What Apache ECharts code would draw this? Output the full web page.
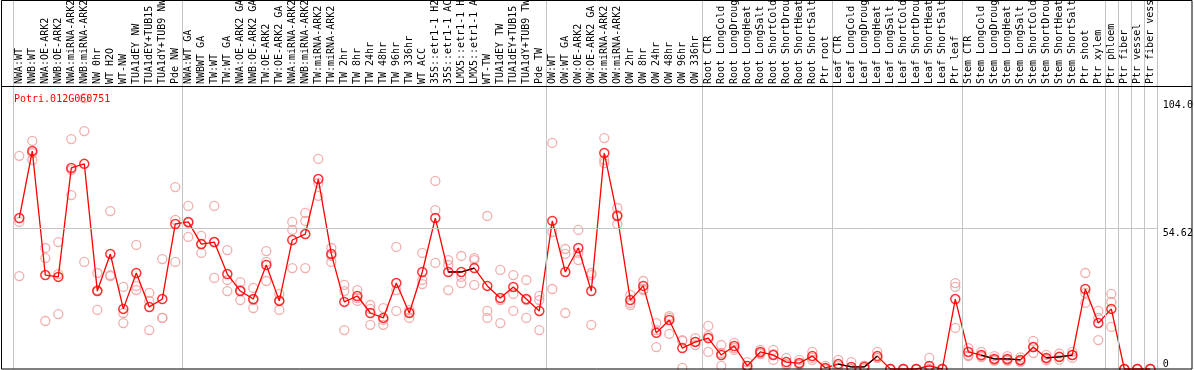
<!DOCTYPE html>
<html>
<head>
<meta charset="utf-8">
<script src="https://cdn.jsdelivr.net/npm/echarts@6/dist/echarts.min.js"></script>
<style>
html,body{margin:0;padding:0;background:#fff;}
#chart{width:1194px;height:370px;}
</style>
</head>
<body>
<div id="chart"></div>
<script>
const chartTitle = "Potri.012G060751";
const categories = ["NWA:WT","NWB:WT","NWA:OE-ARK2","NWB:OE-ARK2","NWA:miRNA-ARK2","NWB:miRNA-ARK2","NW 0hr","WT H2O","WT-NW","TUA1dEY NW","TUA1dEY+TUB15 NW","TUA1dY+TUB9 NW","Pde NW","NWA:WT GA","NWBWT GA","TW:WT","TW:WT GA","NWA:OE-ARK2 GA","NWB:OE-ARK2 GA","TW:OE-ARK2","TW:OE-ARK2 GA","NWA:miRNA-ARK2","NWB:miRNA-ARK2","TW:miRNA-ARK2","TW:miRNA-ARK2","TW 2hr","TW 8hr","TW 24hr","TW 48hr","TW 96hr","TW 336hr","WT ACC","35S::etr1-1 H2O","35S::etr1-1 ACC","LMX5::etr1-1 H2O","LMX5::etr1-1 ACC","WT-TW","TUA1dEY TW","TUA1dEY+TUB15 TW","TUA1dY+TUB9 TW","Pde TW","OW:WT","OW:WT GA","OW:OE-ARK2","OW:OE-ARK2 GA","OW:miRNA-ARK2","OW:miRNA-ARK2","OW 2hr","OW 8hr","OW 24hr","OW 48hr","OW 96hr","OW 336hr","Root CTR","Root LongCold","Root LongDrought","Root LongHeat","Root LongSalt","Root ShortCold","Root ShortDrought","Root ShortHeat","Root ShortSalt","Ptr root","Leaf CTR","Leaf LongCold","Leaf LongDrought","Leaf LongHeat","Leaf LongSalt","Leaf ShortCold","Leaf ShortDrought","Leaf ShortHeat","Leaf ShortSalt","Ptr leaf","Stem CTR","Stem LongCold","Stem LongDrought","Stem LongHeat","Stem LongSalt","Stem ShortCold","Stem ShortDrought","Stem ShortHeat","Stem ShortSalt","Ptr shoot","Ptr xylem","Ptr phloem","Ptr fiber","Ptr vessel","Ptr fiber vessel"];

const meanValues = [58.5,84.5,36.4,35.7,77.9,79.5,30.2,44.6,23.3,37.2,24.0,27.1,56.2,57.0,48.4,49.2,36.8,30.2,27.1,40.3,26.4,50.0,52.3,73.6,44.6,26.0,28.3,21.7,19.8,33.3,21.7,37.6,58.5,37.6,37.6,39.1,32.2,27.5,31.8,27.1,22.5,57.4,37.6,46.9,30.2,83.7,59.3,26.7,32.2,14.0,19.0,8.1,10.5,12.0,5.4,8.9,1.2,6.6,5.4,2.7,2.3,5.0,0.4,1.9,0.8,0.8,5.0,0,0,0,1.2,0,27.1,6.6,5.4,3.9,3.9,3.5,8.5,4.3,4.7,5.4,31.0,17.8,23.3,0,0,0];

const rep1Values = [82.6,88.4,46.9,49.2,89.1,105.0,37.2,61.2,31.8,48.1,29.5,42.6,70.5,63.2,51.6,63.2,46.1,33.7,31.4,45.7,29.1,57.0,60.5,81.4,46.9,32.6,30.6,24.8,23.6,47.3,22.9,45.0,72.9,42.2,43.8,43.0,59.3,38.4,36.4,34.5,28.3,87.6,46.5,53.9,37.2,89.5,62.4,28.7,34.1,17.8,20.5,11.2,12.0,16.7,9.3,10.1,2.7,7.4,7.4,4.3,3.5,6.6,1.2,3.5,2.7,1.2,6.6,0,0,0,4.3,0,33.3,8.1,6.6,5.0,5.0,4.5,10.9,5.5,6.0,6.6,37.2,22.5,29.1,0,0,0];
const rep2Values = [57.0,83.7,43.0,36.8,77.1,92.2,30.6,36.4,21.7,32.2,26.4,19.8,57.8,56.6,45.0,49.2,34.5,30.6,26.7,41.5,26.7,53.9,57.4,72.1,43.8,30.2,27.5,23.3,19.0,30.6,22.1,34.5,61.6,40.3,35.7,42.2,22.5,26.7,29.1,26.7,26.7,53.1,44.6,45.0,36.4,81.0,59.7,25.6,31.0,15.1,19.8,10.9,10.5,12.8,6.2,8.1,1.2,6.2,5.8,1.9,1.9,4.3,0,1.2,0,0,4.3,0,0,0,0,0,31.8,5.4,5.0,3.5,3.5,3.3,8.5,4.0,4.6,5.4,29.5,19.8,26.0,0,0,0];
const rep3Values = [36.0,81.0,18.6,21.3,67.4,41.5,22.9,36.0,17.8,30.6,15.1,19.8,41.5,51.2,48.4,35.3,30.2,26.7,23.6,34.1,22.9,39.1,39.1,67.1,41.5,15.1,26.4,17.1,17.1,22.5,19.8,32.9,41.1,30.6,33.3,32.6,19.8,17.8,22.5,19.8,15.1,31.0,21.7,42.2,17.1,79.8,56.2,24.8,30.6,8.5,13.6,0.4,9.3,6.6,1.2,7.4,0,5.8,3.5,1.6,1.6,3.5,0,0.4,0,1.2,4.3,0,0,0,0,0,15.9,5.0,4.6,3.2,3.2,2.8,6.2,3.4,3.6,4.3,25.6,11.2,16.3,0,0,0];

// segments (start index) drawn in black instead of red
const blackSegmentStarts = [33,34,63,64,65,74,75,76,79,80];

const groupBoundaries = [0,13,41,53,63,73,84,85,86,87,88];
const referenceLineValue = 54.62;
const yTickValues = [54.62, 104.0];
const yTickLabels = ["54.62", "104.0"];
const yZeroTick = [0];
const yMax = 143;

const FONT = "'DejaVu Sans Mono', monospace";
const chart = echarts.init(document.getElementById('chart'), null, {renderer: 'canvas'});

function repSeries(vals) {
  return {
    type: 'scatter',
    xAxisIndex: 0, yAxisIndex: 0,
    data: vals.map((v, i) => [i, v]),
    symbol: 'circle', symbolSize: 9,
    itemStyle: {color: 'rgba(0,0,0,0)', borderColor: '#f09a9a', borderWidth: 1.3},
    silent: true, z: 3, clip: false
  };
}

const blackSegmentSeries = blackSegmentStarts.map(s => ({
  type: 'line', xAxisIndex: 0, yAxisIndex: 0,
  data: meanValues.map((v, i) => [i, v]).slice(s, s + 2),
  symbol: 'none', lineStyle: {color: '#000', width: 1.2},
  silent: true, z: 4, clip: false
}));

const option = {
  backgroundColor: '#fff',
  animation: false,
  title: {
    text: chartTitle, left: 9, top: 89,
    textStyle: {color: '#ff0000', fontFamily: FONT, fontSize: 10, fontWeight: 'normal'}
  },
  grid: {left: 12.8, right: 37.2, top: 0, bottom: 1, containLabel: false, outerBoundsMode: 'none'},
  xAxis: [{
    type: 'category', data: categories, position: 'top', offset: -86,
    boundaryGap: true,
    axisLine: {show: false}, axisTick: {show: false}, splitLine: {show: false},
    axisLabel: {interval: 0, rotate: 90, margin: 2, color: '#000', fontFamily: FONT, fontSize: 10}
  }, {
    type: 'value', min: 0, max: categories.length, show: false
  }],
  yAxis: [{
    type: 'value', min: 0, max: yMax, position: 'right',
    axisLine: {show: false}, axisTick: {show: false}, splitLine: {show: false},
    axisLabel: {
      customValues: yTickValues, margin: 6, verticalAlign: 'top', align: 'left',
      color: '#000', fontFamily: FONT, fontSize: 10,
      formatter: v => yTickLabels[yTickValues.indexOf(v)] || String(v)
    }
  }, {
    type: 'value', min: 0, max: yMax, position: 'right',
    axisLine: {show: false}, axisTick: {show: false}, splitLine: {show: false},
    axisLabel: {
      customValues: yZeroTick, margin: 6, verticalAlign: 'bottom', align: 'left',
      color: '#000', fontFamily: FONT, fontSize: 10
    }
  }],
  series: [
    {
      type: 'line', xAxisIndex: 1, yAxisIndex: 0, data: [], silent: true,
      markLine: {
        silent: true, symbol: 'none', animation: false,
        label: {show: false},
        lineStyle: {color: '#c4c4c4', type: 'solid', width: 1},
        data: groupBoundaries.map(b => ({xAxis: b})).concat([{yAxis: referenceLineValue}])
      }
    },
    repSeries(rep1Values), repSeries(rep2Values), repSeries(rep3Values),
    {
      type: 'line', xAxisIndex: 0, yAxisIndex: 0,
      data: meanValues,
      symbol: 'none',
      lineStyle: {color: '#ff0000', width: 1.3},
      silent: true, z: 3.5, clip: false
    }
  ].concat(blackSegmentSeries).concat([
    {
      type: 'scatter', xAxisIndex: 0, yAxisIndex: 0,
      data: meanValues.map((v, i) => [i, v]),
      symbol: 'circle', symbolSize: 9,
      itemStyle: {color: 'rgba(0,0,0,0)', borderColor: '#ff0000', borderWidth: 1.5},
      silent: true, z: 5, clip: false
    }
  ]),
  graphic: [
    {type: 'rect', shape: {x: 1.5, y: 0.5, width: 1190.5, height: 368.5}, style: {fill: null, stroke: '#000', lineWidth: 1}, silent: true, z: 100},
    {type: 'line', shape: {x1: 1.5, y1: 86.5, x2: 1192, y2: 86.5}, style: {stroke: '#000', lineWidth: 1}, silent: true, z: 100}
  ]
};
chart.setOption(option);
</script>
</body>
</html>
